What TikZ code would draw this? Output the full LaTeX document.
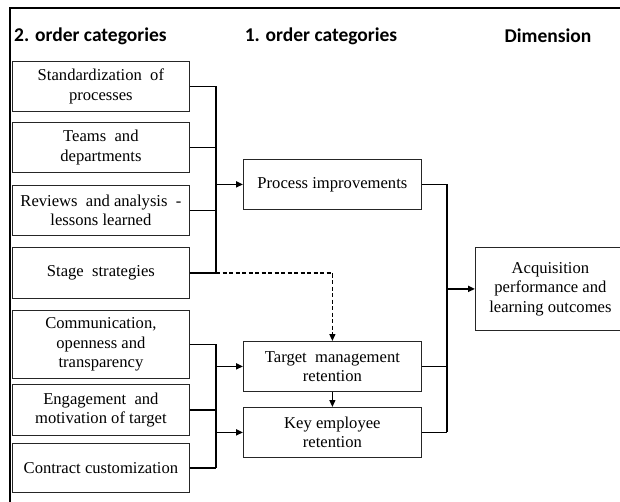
\documentclass[tikz,border=0pt]{standalone}
\usepackage{fontspec}
\setmainfont{Liberation Serif}
\newfontfamily\headfont{Carlito}
\usetikzlibrary{arrows.meta}
\begin{document}
\begin{tikzpicture}[x=1pt,y=-1pt,
  box/.style={draw=black!85,line width=0.8pt,rectangle,inner sep=0pt,align=center,
    anchor=north west,font=\fontsize{16.6}{19.5}\selectfont},
  lbox/.style={box,minimum width=177pt},
  mbox/.style={box,minimum width=178pt},
  head/.style={font=\headfont\bfseries\fontsize{19.5}{24}\selectfont,inner sep=0pt},
  conn/.style={line width=1.7pt,black},
  arr/.style={conn,-{Triangle[length=7pt,width=6pt]}},
  darr/.style={line width=1.2pt,dash pattern=on 4pt off 2.5pt,-{Triangle[length=7pt,width=6pt]}}
]
\useasboundingbox (0,0) rectangle (620,502);
\clip (0,0) rectangle (620,502);
% frame
\draw[line width=1.8pt] (10,502) -- (10,8) -- (625,8);
% headers
\node[head,anchor=west] (h2) at (14,36) {2. order categories};
\node[head] (h1) at (321,36) {1. order categories};
\node[head] (h0) at (548,36) {Dimension};
% left boxes
\node[lbox,minimum height=50pt] (s1) at (12,61) {Standardization~ of\\processes};
\node[lbox,minimum height=50pt] (s2) at (12,122) {Teams~ and\\departments};
\node[lbox,minimum height=50pt] (s3) at (12,185) {Reviews~ and analysis~ -\\lessons learned};
\node[lbox,minimum height=51pt] (s4) at (12,247) {Stage~ strategies};
\node[lbox,minimum height=68pt] (s5) at (12,310) {Communication,\\openness and\\transparency};
\node[lbox,minimum height=51pt] (s6) at (12,384) {Engagement~ and\\motivation of target};
\node[lbox,minimum height=49pt] (s7) at (12,443) {Contract customization};
% middle boxes
\node[mbox,minimum height=50pt] (pi) at (243,159) {Process improvements};
\node[mbox,minimum height=50pt] (tm) at (243,341) {Target~ management\\retention};
\node[mbox,minimum height=50pt] (ke) at (243,407) {Key employee\\retention};
% right box
\node[box,minimum width=150pt,minimum height=83pt] (ac) at (475,247) {Acquisition\\performance and\\learning outcomes};
% buses
\coordinate (bA) at (216,0);
\coordinate (bB) at (447,0);
\draw[conn] (s1.east) -- (s1.east -| bA);
\draw[conn] (s2.east) -- (s2.east -| bA);
\draw[conn] (s3.east) -- (s3.east -| bA);
\draw[conn] (s4.east) -- (s4.east -| bA);
\draw[conn] (s1.east -| bA) -- (s4.east -| bA);
\draw[arr] (pi.west -| bA) -- (pi.west);
\draw[darr] (s4.east -| bA) -- (s4.east -| tm.north) -- (tm.north);
\draw[conn] (s5.east) -- (s5.east -| bA);
\draw[conn] (s6.east) -- (s6.east -| bA);
\draw[conn] (s7.east) -- (s7.east -| bA);
\draw[conn] (s5.east -| bA) -- (s7.east -| bA);
\draw[arr] (tm.west -| bA) -- (tm.west);
\draw[arr] (ke.west -| bA) -- (ke.west);
\draw[arr,line width=1.2pt] (tm.south) -- (ke.north);
\draw[conn] (pi.east) -- (pi.east -| bB);
\draw[conn] (tm.east) -- (tm.east -| bB);
\draw[conn] (ke.east) -- (ke.east -| bB);
\draw[conn] (pi.east -| bB) -- (ke.east -| bB);
\draw[arr] (ac.west -| bB) -- (ac.west);
\end{tikzpicture}
\end{document}
